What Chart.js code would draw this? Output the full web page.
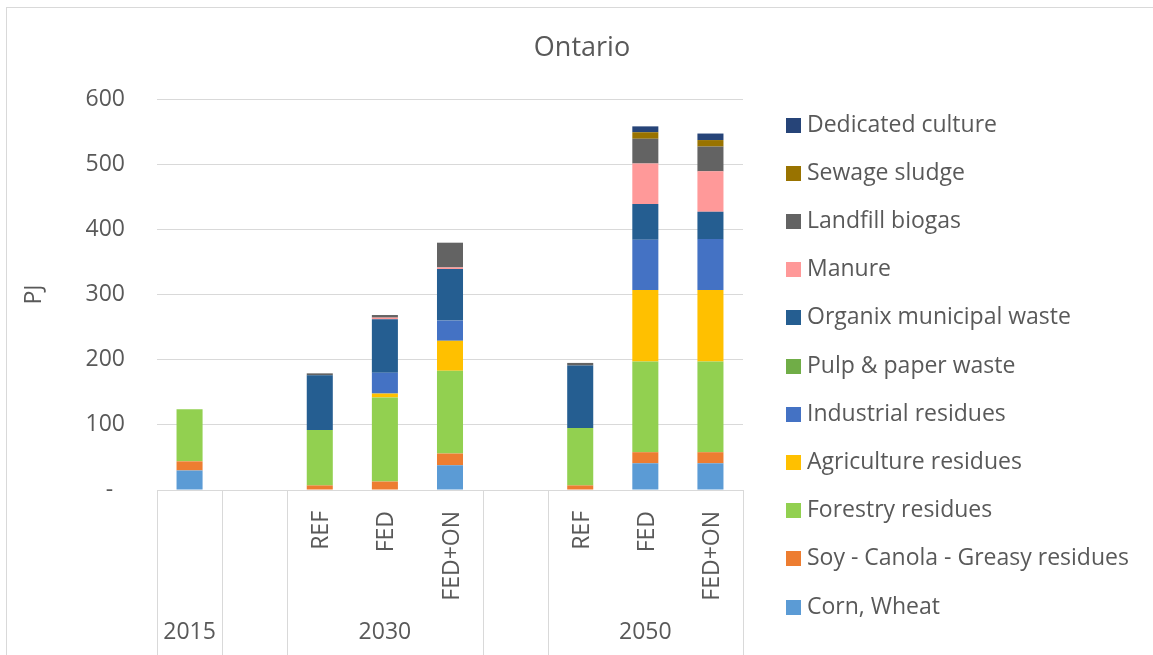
<!DOCTYPE html>
<html>
<head>
<meta charset="utf-8">
<title>Ontario</title>
<script src="https://cdn.jsdelivr.net/npm/chart.js@4.4.0/dist/chart.umd.min.js"></script>
<style>
  html, body { margin: 0; padding: 0; background: #fff; overflow: hidden; }
  #frame { position: absolute; left: 6px; top: 7px; width: 1200px; height: 700px; border: 1px solid #d9d9d9; }
  #wrap { position: absolute; left: 0; top: 0; width: 1153px; height: 655px; }
</style>
</head>
<body>
<div id="frame"></div>
<div id="wrap"><canvas id="chart"></canvas></div>
<script>
// scenario labels on the inner axis row, year groups on the outer row
const categories = ['', '', 'REF', 'FED', 'FED+ON', '', 'REF', 'FED', 'FED+ON'];
const groupLabels = ['2015', '', '2030', '', '2050'];
const groupSpans = [1, 1, 3, 1, 3];

// PJ by source, stacked bottom to top
const cornWheat      = [30, null, 0, 0, 38, null, 0, 41, 41];
const soyCanola      = [14, null, 7, 13, 18, null, 7, 17, 17];
const forestry       = [80, null, 85, 129, 127, null, 88, 139, 139];
const agriculture    = [0, null, 0, 6, 46, null, 0, 110, 110];
const industrial     = [0, null, 0, 32, 31, null, 0, 77, 78];
const pulpPaper      = [0, null, 0, 0, 0, null, 0, 0, 0];
const organix        = [0, null, 84, 82, 79, null, 96, 55, 42];
const manure         = [0, null, 0, 2.5, 2.5, null, 0, 62, 62];
const landfill       = [0, null, 3, 4, 38, null, 4, 38, 38];
const sewage         = [0, null, 0, 0, 0, null, 0, 10, 10];
const dedicated      = [0, null, 0, 0, 0, null, 0, 9, 10];

const seriesNames = ['Corn, Wheat', 'Soy - Canola - Greasy residues', 'Forestry residues',
  'Agriculture residues', 'Industrial residues', 'Pulp & paper waste', 'Organix municipal waste',
  'Manure', 'Landfill biogas', 'Sewage sludge', 'Dedicated culture'];
const seriesData = [cornWheat, soyCanola, forestry, agriculture, industrial, pulpPaper,
  organix, manure, landfill, sewage, dedicated];
const seriesColors = ['#5b9bd5', '#ed7d31', '#92d050', '#ffc000', '#4472c4', '#70ad47',
  '#255e91', '#ff9999', '#636363', '#997300', '#264478'];

const yMax = 600;
const yStep = 100;

const TEXT = '#595959';
const FONT = "'Open Sans', sans-serif";
Chart.defaults.font.family = FONT;
Chart.defaults.color = TEXT;

// title, year groups under the axis, and the side legend
const excelFrame = {
  id: 'excelFrame',
  afterDraw(chart) {
    const { ctx, chartArea } = chart;
    const x = chart.scales.x;
    const step = x.getPixelForValue(1) - x.getPixelForValue(0);
    ctx.save();

    ctx.fillStyle = TEXT;
    ctx.font = '27px ' + FONT;
    ctx.textAlign = 'center';
    ctx.textBaseline = 'middle';
    ctx.fillText('Ontario', 582, 48);

    ctx.strokeStyle = '#d9d9d9';
    ctx.lineWidth = 1;
    ctx.font = '23px ' + FONT;
    let start = 0;
    const edges = [0];
    groupSpans.forEach((span, g) => {
      const end = start + span - 1;
      const cx = (x.getPixelForValue(start) + x.getPixelForValue(end)) / 2;
      if (groupLabels[g]) ctx.fillText(groupLabels[g], cx, 632);
      start += span;
      edges.push(start);
    });
    edges.forEach(k => {
      const px = Math.round(x.getPixelForValue(0) + (k - 0.5) * step) + 0.5;
      ctx.beginPath();
      ctx.moveTo(px, chartArea.bottom);
      ctx.lineTo(px, chart.height);
      ctx.stroke();
    });

    ctx.textAlign = 'left';
    const sets = chart.data.datasets.slice().reverse();
    sets.forEach((ds, i) => {
      const cy = 125 + i * 48.2;
      ctx.fillStyle = ds.backgroundColor;
      ctx.fillRect(786, Math.round(cy - 7.5), 15, 15);
      ctx.fillStyle = TEXT;
      ctx.fillText(ds.label, 807, cy);
    });
    ctx.restore();
  }
};

new Chart(document.getElementById('chart'), {
  type: 'bar',
  data: {
    labels: categories,
    datasets: seriesNames.map((name, i) => ({
      label: name,
      data: seriesData[i],
      backgroundColor: seriesColors[i],
      borderWidth: 0,
      barPercentage: 0.4,
      categoryPercentage: 1
    }))
  },
  options: {
    responsive: true,
    maintainAspectRatio: false,
    animation: false,
    layout: { padding: { left: 0, right: 410, top: 99, bottom: 0 } },
    plugins: {
      legend: { display: false },
      tooltip: { enabled: false },
      title: { display: false }
    },
    scales: {
      x: {
        stacked: true,
        grid: { display: false },
        border: { display: false },
        ticks: { autoSkip: false, minRotation: 90, maxRotation: 90, padding: 13, labelOffset: 2, font: { size: 23 } },
        afterFit: s => { s.height = 165; }
      },
      y: {
        stacked: true,
        min: 0,
        max: yMax,
        grid: { color: '#d9d9d9', drawTicks: false },
        border: { display: false },
        ticks: {
          stepSize: yStep,
          padding: 32,
          font: { size: 23 },
          callback: v => v === 0 ? '-  ' : v
        },
        title: { display: true, text: 'PJ', font: { size: 23 }, padding: { top: 21 } },
        afterFit: s => { s.width = 157; }
      }
    }
  },
  plugins: [excelFrame]
});
</script>
</body>
</html>
